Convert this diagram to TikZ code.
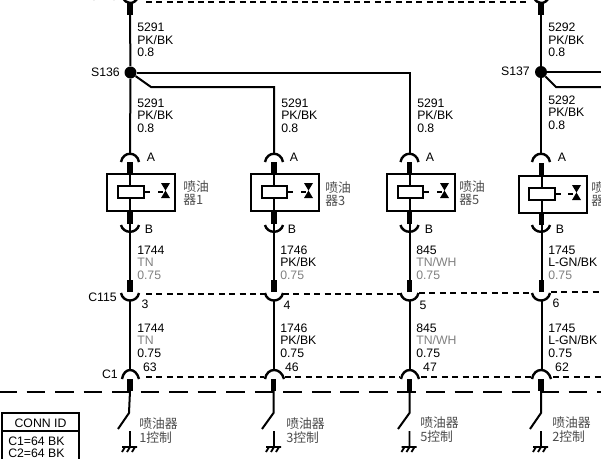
\documentclass[tikz,border=0pt]{standalone}
\usepackage{fontspec}
\setmainfont{Liberation Sans}
\newfontfamily\cjkfont{Noto Sans CJK SC}
\definecolor{wiregray}{gray}{.5}
\definecolor{cjkgray}{gray}{.3}
\tikzset{
    wire/.style={line width=1.5pt},
    stub/.style={line width=3.8pt},
    plug/.style={line width=1.8pt},
    gnd/.style={line width=1.4pt},
    shortdash/.style={line width=1.5pt,dash pattern=on 4.5pt off 3.3pt},
    longdash/.style={line width=1.9pt,dash pattern=on 14pt off 7.4pt},
    wirelabel/.style={anchor=west,inner sep=0pt,align=left,font=\fontsize{9.2}{9.4}\selectfont},
    pinlabel/.style={inner sep=0pt,font=\fontsize{9.2}{9.4}\selectfont},
    cjklabel/.style={anchor=west,inner sep=0pt,align=left,text=cjkgray,font=\cjkfont\fontsize{9.6}{9.6}\selectfont},
    ctrllabel/.style={anchor=west,inner sep=0pt,align=left,text=cjkgray,font=\cjkfont\fontsize{9.6}{10.4}\selectfont},
    injbox/.style={draw,line width=1.5pt,minimum width=50.6pt,minimum height=27.5pt,inner sep=0pt},
    coil/.style={draw,fill=white,line width=1.5pt,minimum width=19pt,minimum height=9pt,inner sep=0pt},
    splice/.style={circle,fill=black,minimum size=9pt,inner sep=0pt},
}
\begin{document}
\begin{tikzpicture}[x=.75pt,y=-.75pt]
        \useasboundingbox (0,0) rectangle (601,458);
        \clip (0,0) rectangle (601,458);

        % top connector
        \draw[shortdash] (146,2) -- (528,2);
        \draw[plug] (123,-3) .. controls (125,5) and (135,5) .. (138,-3);
        \draw[plug] (534,-3) .. controls (536,5) and (546,5) .. (549,-3);
        \node[pinlabel,anchor=east] (ctop) at (118,-4) {C115};
        \node[pinlabel,anchor=west] (ptop) at (547,-4) {12};
        \coordinate (top1) at (130,3);
        \coordinate (top1b) at (130,15);
        \coordinate (top4) at (541,3);
        \coordinate (top4b) at (541,15);
        \draw[stub] (top1) -- (top1b);
        \draw[stub] (top4) -- (top4b);

        % splices
        \node[splice] (s136) at (130.5,72.5) {};
        \node[splice] (s137) at (541,72) {};
        \node[pinlabel,anchor=east] (s136l) at (120,72.5) {S136};
        \node[pinlabel,anchor=east] (s137l) at (530,71) {S137};
        \coordinate (a1) at (130,154);
        \coordinate (a2) at (274,154);
        \coordinate (a3) at (409.5,154);
        \coordinate (a4) at (541,154);
        \coordinate (br2) at (151,87);
        \coordinate (br2b) at (274,87);
        \coordinate (br3) at (409.5,72.5);
        \coordinate (br4) at (556,87);
        \coordinate (br4b) at (601,87);
        \coordinate (br5) at (601,72);
        \draw[wire] (top1b) -- (s136);
        \draw[wire] (top4b) -- (s137);
        \draw[wire] (s136) -- (a1);
        \draw[wire] (s137) -- (a4);
        \draw[wire] (s136) -- (br3) -- (a3);
        \draw[wire] (s136) -- (br2) -- (br2b) -- (a2);
        \draw[wire] (s137) -- (br5);
        \draw[wire] (s137) -- (br4) -- (br4b);

        \node[wirelabel] (w1a) at (137,40) {5291\\PK/BK\\0.8};
        \node[wirelabel] (w4a) at (548,40) {5292\\PK/BK\\0.8};
        \node[wirelabel] (w1b) at (137,115.5) {5291\\PK/BK\\0.8};
        \node[wirelabel] (w2b) at (281,115.5) {5291\\PK/BK\\0.8};
        \node[wirelabel] (w3b) at (417,115.5) {5291\\PK/BK\\0.8};
        \node[wirelabel] (w4b) at (548,112.5) {5292\\PK/BK\\0.8};

        % injector 1
        \draw[plug] (121,162) .. controls (123,151) and (137,151) .. (139,162);
        \node[injbox] (inj1) at (141.2,192.5) {};
        \coordinate (i1t) at (130,162);
        \coordinate (i1b) at (130,224);
        \draw[stub] (i1t) -- (inj1.north -| i1t);
        \draw[stub] (inj1.south -| i1b) -- (i1b);
        \draw[wire] (inj1.north -| i1t) -- (inj1.south -| i1b);
        \node[coil] (coil1) at (131,192) {};
        \draw[wire] (coil1.east) -- +(5,0);
        \draw[wire] (158,192) -- (163,192);
        \fill (161,183) -- (170,183) -- (161,198) -- (170,198) -- cycle;
        \draw[plug] (121,225) .. controls (123,234) and (137,234) .. (139,225);
        \node[pinlabel] (a1l) at (151,157) {A};
        \node[pinlabel] (b1l) at (149,229) {B};
        \node[cjklabel] (n1) at (183,193) {喷油\\器1};

        % injector 3
        \draw[plug] (265,162) .. controls (267,151) and (281,151) .. (283,162);
        \node[injbox] (inj2) at (285,192.5) {};
        \coordinate (i2t) at (274,162);
        \coordinate (i2b) at (274,224);
        \draw[stub] (i2t) -- (inj2.north -| i2t);
        \draw[stub] (inj2.south -| i2b) -- (i2b);
        \draw[wire] (inj2.north -| i2t) -- (inj2.south -| i2b);
        \node[coil] (coil2) at (274.5,192) {};
        \draw[wire] (coil2.east) -- +(5,0);
        \draw[wire] (301,192) -- (306,192);
        \fill (304,183) -- (313,183) -- (304,198) -- (313,198) -- cycle;
        \draw[plug] (265,225) .. controls (267,234) and (281,234) .. (283,225);
        \node[pinlabel] (a2l) at (294,157) {A};
        \node[pinlabel] (b2l) at (292,229) {B};
        \node[cjklabel] (n2) at (325,194) {喷油\\器3};

        % injector 5
        \draw[plug] (400.5,162) .. controls (402.5,151) and (416.5,151) .. (418.5,162);
        \node[injbox] (inj3) at (421,192.5) {};
        \coordinate (i3t) at (409.5,162);
        \coordinate (i3b) at (409.5,224);
        \draw[stub] (i3t) -- (inj3.north -| i3t);
        \draw[stub] (inj3.south -| i3b) -- (i3b);
        \draw[wire] (inj3.north -| i3t) -- (inj3.south -| i3b);
        \node[coil] (coil3) at (410.5,192) {};
        \draw[wire] (coil3.east) -- +(5,0);
        \draw[wire] (437,192) -- (442,192);
        \fill (440,183) -- (449,183) -- (440,198) -- (449,198) -- cycle;
        \draw[plug] (400.5,225) .. controls (402.5,234) and (416.5,234) .. (418.5,225);
        \node[pinlabel] (a3l) at (430,157) {A};
        \node[pinlabel] (b3l) at (429,229) {B};
        \node[cjklabel] (n3) at (459,193) {喷油\\器5};

        % injector 2
        \draw[plug] (532,162) .. controls (534,151) and (548,151) .. (550,162);
        \node[injbox] (inj4) at (553,194.5) {};
        \coordinate (i4t) at (541.5,163);
        \coordinate (i4b) at (541.5,225);
        \draw[stub] (i4t) -- (inj4.north -| i4t);
        \draw[stub] (inj4.south -| i4b) -- (i4b);
        \draw[wire] (inj4.north -| i4t) -- (inj4.south -| i4b);
        \node[coil] (coil4) at (542,194) {};
        \draw[wire] (coil4.east) -- +(5,0);
        \draw[wire] (568,194) -- (573,194);
        \fill (572,185) -- (581,185) -- (572,200) -- (581,200) -- cycle;
        \draw[plug] (532,225) .. controls (534,234) and (548,234) .. (550,225);
        \node[pinlabel] (a4l) at (562,157) {A};
        \node[pinlabel] (b4l) at (560,229) {B};
        \node[cjklabel] (n4) at (591,194) {喷油\\器2};

        % C115
        \draw[shortdash] (146,294) -- (265,294);
        \draw[shortdash] (283,294) -- (400,294);
        \draw[shortdash] (419,293) -- (532,293);
        \draw[shortdash] (551,292) -- (601,292);
        \draw[plug] (121,293) .. controls (123,303) and (137,303) .. (139,293);
        \draw[plug] (265,293) .. controls (267,303) and (281,303) .. (283,293);
        \draw[plug] (400.5,293) .. controls (402.5,303) and (416.5,303) .. (418.5,293);
        \draw[plug] (532,293) .. controls (534,303) and (548,303) .. (550,293);
        \node[pinlabel,anchor=east] (c115) at (117,297) {C115};
        \node[pinlabel] (p3) at (145,304) {3};
        \node[pinlabel] (p4) at (287,305) {4};
        \node[pinlabel] (p5) at (423,305) {5};
        \node[pinlabel] (p6) at (556,303) {6};

        \coordinate (u1) at (130,280);
        \coordinate (u2) at (274,280);
        \coordinate (u3) at (409.5,280);
        \coordinate (u4) at (541.5,280);
        \coordinate (v1) at (130,292);
        \coordinate (v2) at (274,292);
        \coordinate (v3) at (409.5,292);
        \coordinate (v4) at (541.5,292);
        \draw[wire] (i1b) -- (u1);
        \draw[wire] (i2b) -- (u2);
        \draw[wire] (i3b) -- (u3);
        \draw[wire] (i4b) -- (u4);
        \draw[stub] (u1) -- (v1);
        \draw[stub] (u2) -- (v2);
        \draw[stub] (u3) -- (v3);
        \draw[stub] (u4) -- (v4);

        \node[wirelabel] (w1c) at (137,262.5) {1744\\\textcolor{wiregray}{TN}\\\textcolor{wiregray}{0.75}};
        \node[wirelabel] (w2c) at (280,262.5) {1746\\PK/BK\\\textcolor{wiregray}{0.75}};
        \node[wirelabel] (w3c) at (416,262.5) {845\\\textcolor{wiregray}{TN/WH}\\\textcolor{wiregray}{0.75}};
        \node[wirelabel] (w4c) at (548,262.5) {1745\\L-GN/BK\\\textcolor{wiregray}{0.75}};
        \node[wirelabel] (w1d) at (137,340.5) {1744\\\textcolor{wiregray}{TN}\\0.75};
        \node[wirelabel] (w2d) at (280,340.5) {1746\\PK/BK\\0.75};
        \node[wirelabel] (w3d) at (416,340.5) {845\\\textcolor{wiregray}{TN/WH}\\0.75};
        \node[wirelabel] (w4d) at (548,340.5) {1745\\L-GN/BK\\0.75};

        % C1
        \coordinate (x1) at (130,300);
        \coordinate (x2) at (274,300);
        \coordinate (x3) at (409.5,300);
        \coordinate (x4) at (541.5,300);
        \coordinate (y1) at (130,370);
        \coordinate (y2) at (274,370);
        \coordinate (y3) at (409.5,370);
        \coordinate (y4) at (541.5,370);
        \draw[wire] (x1) -- (y1);
        \draw[wire] (x2) -- (y2);
        \draw[wire] (x3) -- (y3);
        \draw[wire] (x4) -- (y4);
        \draw[shortdash] (146,377) -- (264,377);
        \draw[shortdash] (285,377) -- (400,377);
        \draw[shortdash] (421,377) -- (532,377);
        \draw[shortdash] (553,377) -- (601,377);
        \draw[plug] (122,379) .. controls (124,367) and (136,367) .. (139,379);
        \draw[plug] (265,379) .. controls (267,367) and (281,367) .. (284,379);
        \draw[plug] (401,379) .. controls (403,367) and (416,367) .. (419,379);
        \draw[plug] (532,379) .. controls (534,367) and (548,367) .. (551,379);
        \node[pinlabel,anchor=east] (c1) at (118,374) {C1};
        \node[pinlabel] (p63) at (150,367) {63};
        \node[pinlabel] (p46) at (292,367) {46};
        \node[pinlabel] (p47) at (430,367) {47};
        \node[pinlabel] (p62) at (562,367) {62};

        % body line
        \draw[longdash] (-2,392) -- (601,392);

        % switches
        \coordinate (d1) at (130,379);
        \coordinate (d2) at (273.5,379);
        \coordinate (d3) at (409.5,379);
        \coordinate (d4) at (541,379);
        \coordinate (e1) at (130,391);
        \coordinate (e2) at (273.5,391);
        \coordinate (e3) at (409.5,391);
        \coordinate (e4) at (541,391);
        \draw[stub] (d1) -- (e1);
        \draw[stub] (d2) -- (e2);
        \draw[stub] (d3) -- (e3);
        \draw[stub] (d4) -- (e4);
        \draw[wire] (e1) -- (129,413) -- (118,429);
        \draw[wire] (e2) -- (273.5,413) -- (262,429);
        \draw[wire] (e3) -- (409.5,413) -- (398,429);
        \draw[wire] (e4) -- (541,413) -- (530,429);

        % grounds
        \draw[gnd] (130,431) -- (130,447) (122,447) -- (137,447) (122,452) -- (125,447) (127,452) -- (130,447) (132,452) -- (135,447);
        \draw[gnd] (274,431) -- (274,447) (266,447) -- (281,447) (266,452) -- (269,447) (271,452) -- (274,447) (276,452) -- (279,447);
        \draw[gnd] (409.5,431) -- (409.5,447) (401.5,447) -- (416.5,447) (401.5,452) -- (404.5,447) (406.5,452) -- (409.5,447) (411.5,452) -- (414.5,447);
        \draw[gnd] (541,431) -- (541,447) (533,447) -- (548,447) (533,452) -- (536,447) (538,452) -- (541,447) (543,452) -- (546,447);
        \node[ctrllabel] (g1) at (139,431) {喷油器\\1控制};
        \node[ctrllabel] (g2) at (286,431) {喷油器\\3控制};
        \node[ctrllabel] (g3) at (420,430) {喷油器\\5控制};
        \node[ctrllabel] (g4) at (552,430) {喷油器\\2控制};

        % connector table
        \draw[line width=1.5pt] (2,465) rectangle (79,413);
        \draw[line width=1.5pt] (2,431) -- (79,431);
        \node[pinlabel] (connid) at (40.5,423) {CONN ID};
        \node[pinlabel,anchor=west] (conn1) at (8,441.5) {C1=64 BK};
        \node[pinlabel,anchor=west] (conn2) at (8,453) {C2=64 BK};
    \end{tikzpicture}
\end{document}
